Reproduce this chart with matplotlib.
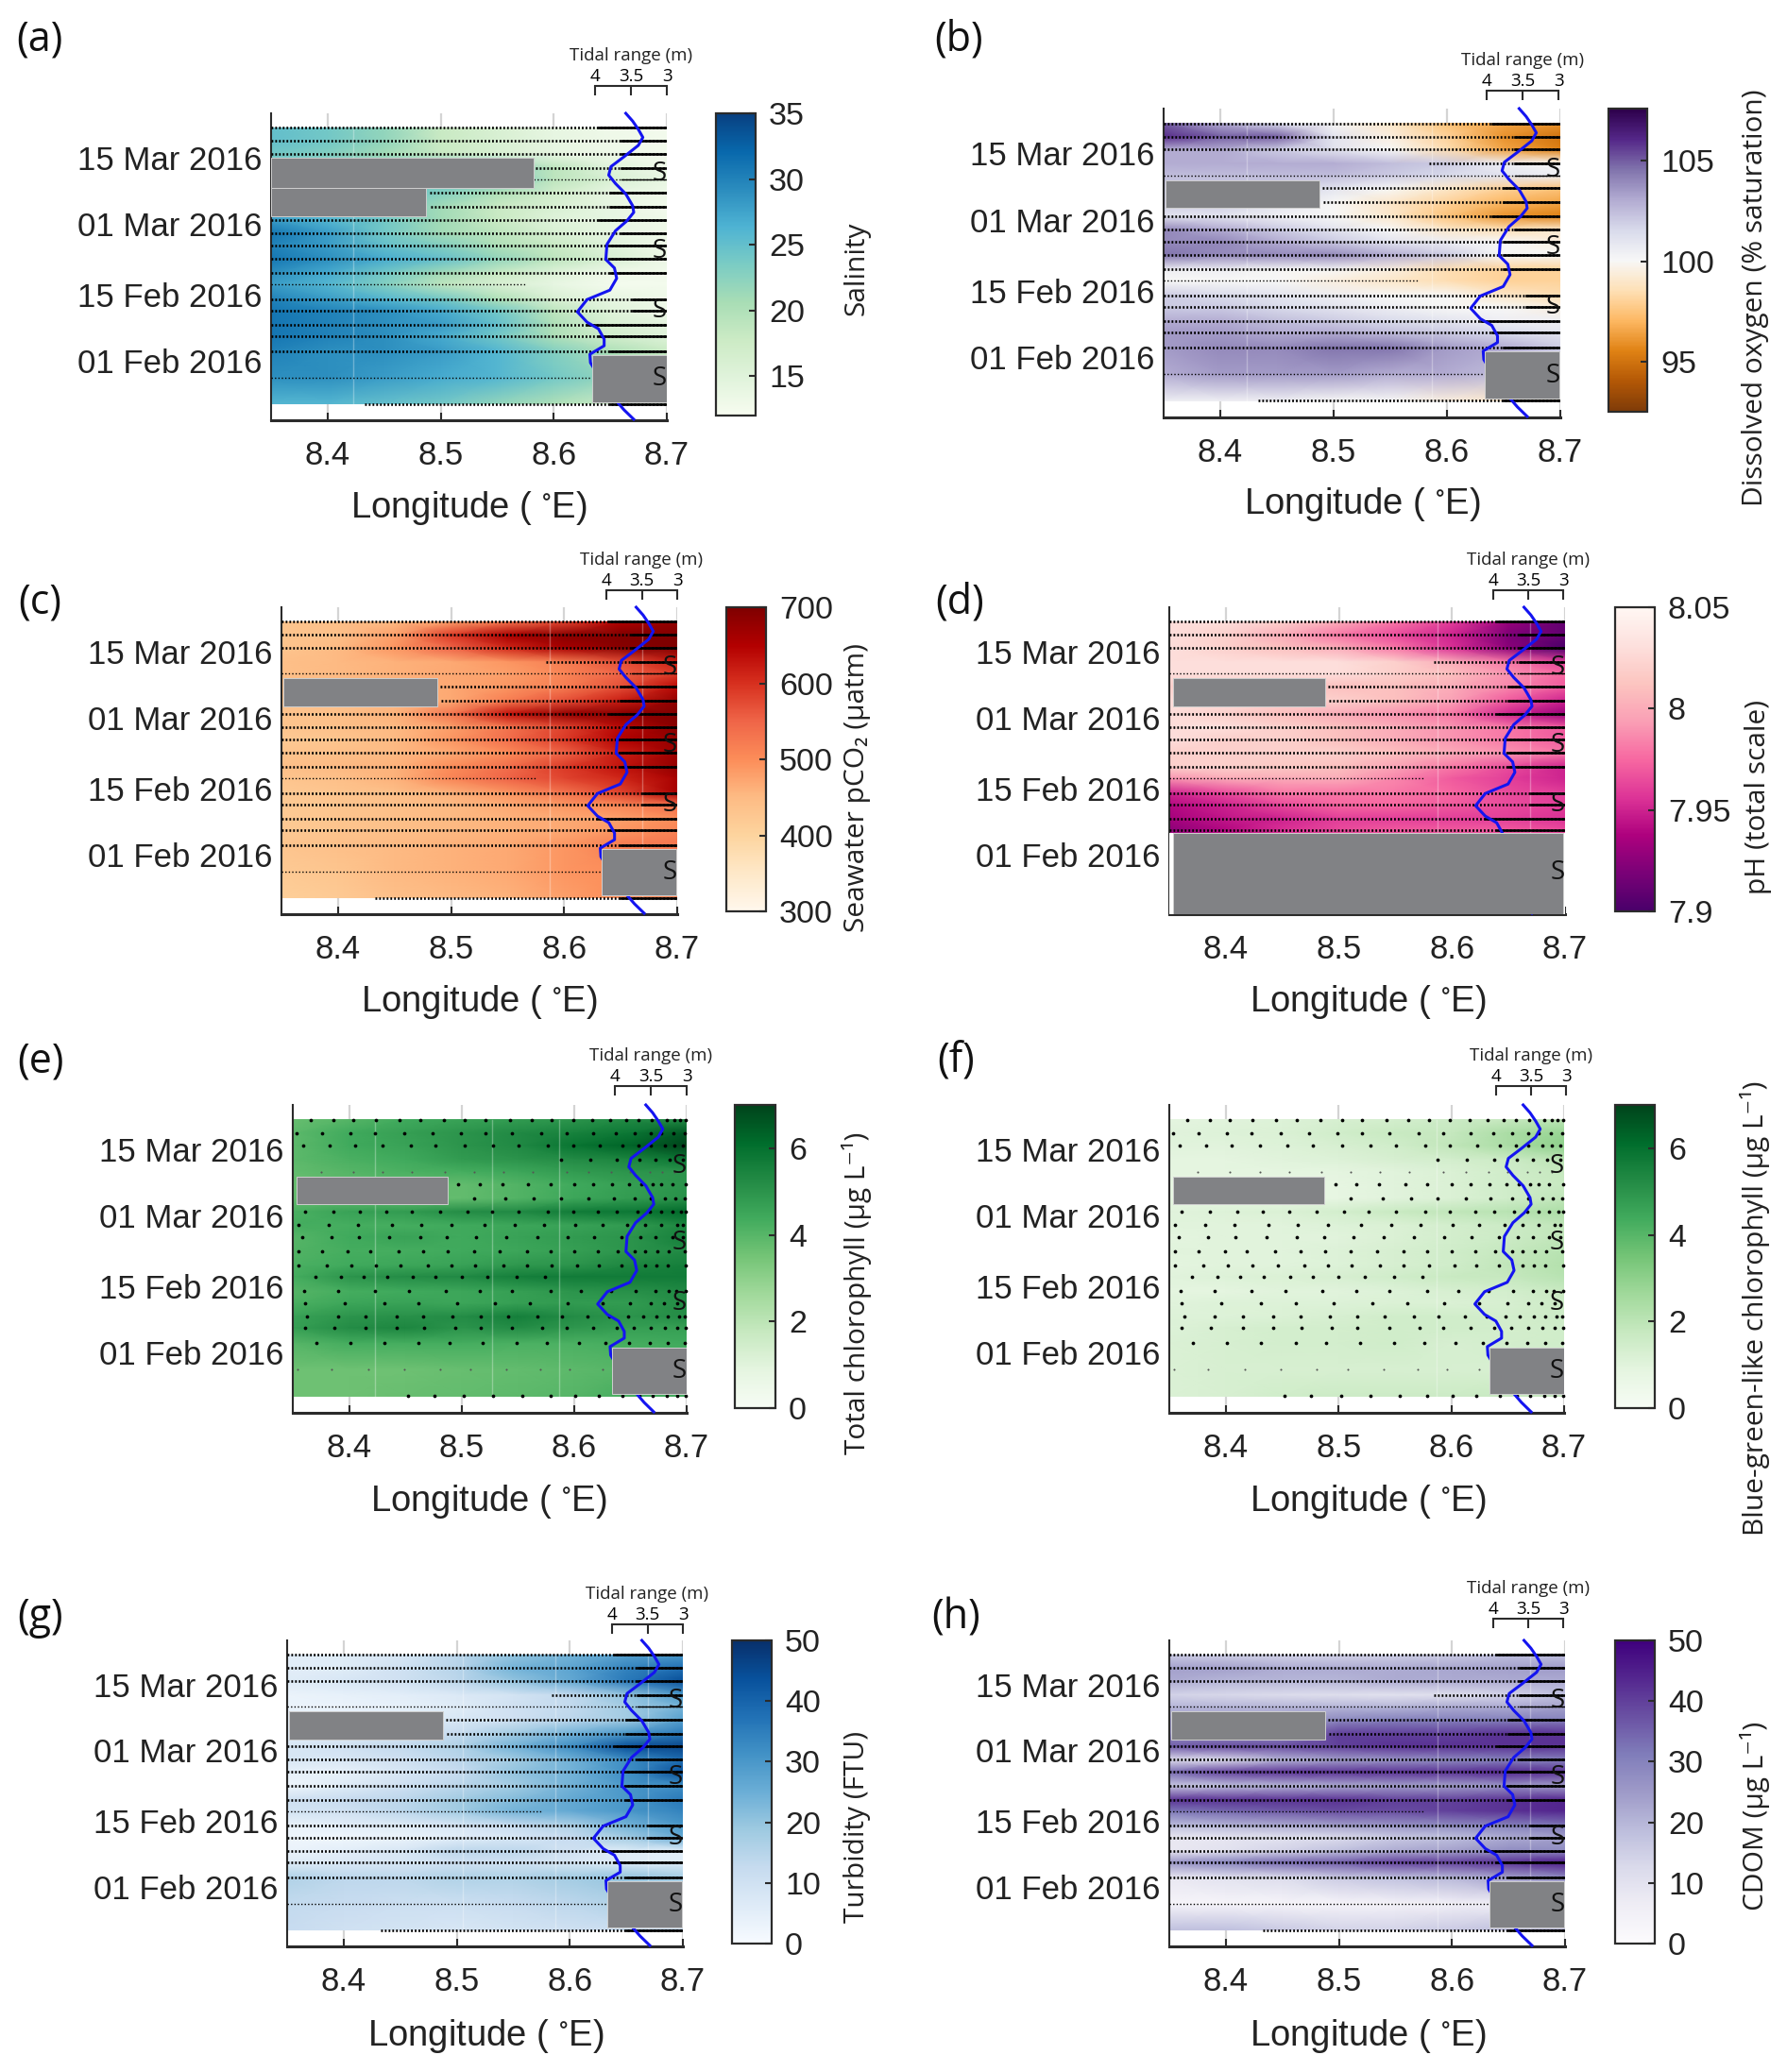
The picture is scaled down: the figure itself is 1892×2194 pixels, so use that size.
import matplotlib
matplotlib.use('Agg')
import matplotlib.pyplot as plt
from matplotlib.patches import Rectangle

plt.rcParams['font.family'] = ['Liberation Sans', 'DejaVu Sans']
plt.rcParams['mathtext.default'] = 'regular'

W, H = 1892, 2194
DARK = '#2b2b2b'
GRAY = '#818285'
LABEL_FONT = ['Open Sans', 'DejaVu Sans']

# ---- sampling: longitude columns and the 20 transects (days since 01 Feb 2016)
lon_cols = [8.35, 8.40, 8.45, 8.50, 8.55, 8.60, 8.65, 8.70]
transect_days = [49.3, 46.5, 43.8, 40.8, 38.3, 35.6, 32.6, 29.8, 27.0, 24.4,
                 21.5, 18.5, 16.1, 13.0, 10.5, 7.6, 5.2, 2.0, -3.6, -9.2]
transect_start = [8.35, 8.35, 8.35, 8.584, 8.35, 8.49, 8.491, 8.35, 8.35, 8.35,
                  8.35, 8.35, 8.35, 8.35, 8.35, 8.35, 8.35, 8.35, 8.35, 8.433]
transect_end = [8.70, 8.70, 8.70, 8.70, 8.70, 8.70, 8.70, 8.70, 8.70, 8.70,
                8.70, 8.70, 8.575, 8.70, 8.70, 8.70, 8.70, 8.70, 8.632, 8.70]
solid_start = [8.64, 8.66, 8.66, 8.66, 8.66, 8.65, 8.65, 8.64, 8.66, 8.65,
               8.65, 8.65, 8.70, 8.67, 8.67, 8.63, 8.64, 8.65, 8.70, 8.65]
thin_rows = [4, 12, 18]

date_ticks = [0, 14, 29, 43]
date_labels = ['01 Feb 2016', '15 Feb 2016', '01 Mar 2016', '15 Mar 2016']
s_days = [39.5, 23.2, 10.5, -3.9]

# tidal range curve
tide_days = [52.4, 50.75, 49.0, 47.3, 45.6, 43.2, 41.1, 39.3, 37.5, 35.3, 32.8,
             31.4, 29.6, 27.5, 24.6, 21.4, 19.6, 17.4, 14.9, 12.9, 10.3, 8.1,
             6.7, 4.5, 3.1, 1.3, -0.5, -4.4, -8.7, -10.5, -12.5]
tide_range = [3.567, 3.472, 3.394, 3.331, 3.394, 3.591, 3.772, 3.803, 3.709,
              3.567, 3.472, 3.457, 3.551, 3.709, 3.827, 3.843, 3.724, 3.693,
              3.787, 4.102, 4.236, 4.102, 3.945, 3.866, 3.866, 4.063, 4.055,
              3.9, 3.693, 3.591, 3.457]

# chlorophyll sensor sample positions, one list per transect
chl_dots = [
    [8.366, 8.386, 8.404, 8.424, 8.445, 8.463, 8.484, 8.503, 8.521, 8.543, 8.562, 8.580, 8.599, 8.616, 8.632, 8.646, 8.657, 8.669, 8.682, 8.689, 8.694, 8.699],
    [8.353, 8.376, 8.401, 8.423, 8.449, 8.474, 8.499, 8.521, 8.545, 8.571, 8.593, 8.617, 8.637, 8.654, 8.668, 8.677, 8.688, 8.698],
    [8.359, 8.383, 8.405, 8.430, 8.455, 8.477, 8.503, 8.528, 8.551, 8.577, 8.599, 8.623, 8.643, 8.657, 8.668, 8.681, 8.689, 8.697],
    [8.588, 8.614, 8.638, 8.658, 8.672, 8.685, 8.697],
    [8.375, 8.404, 8.430, 8.456, 8.485, 8.511, 8.537, 8.563, 8.593, 8.613, 8.633, 8.650, 8.667, 8.678, 8.689],
    [8.497, 8.516, 8.536, 8.559, 8.579, 8.600, 8.617, 8.634, 8.649, 8.660, 8.670, 8.677, 8.687, 8.699],
    [8.511, 8.539, 8.564, 8.588, 8.613, 8.635, 8.654, 8.668, 8.681, 8.690, 8.698],
    [8.361, 8.386, 8.410, 8.433, 8.456, 8.481, 8.505, 8.527, 8.551, 8.577, 8.599, 8.621, 8.638, 8.656, 8.667, 8.677, 8.687, 8.695, 8.699],
    [8.355, 8.382, 8.408, 8.438, 8.464, 8.491, 8.520, 8.547, 8.573, 8.601, 8.625, 8.647, 8.663, 8.677, 8.692, 8.697],
    [8.358, 8.384, 8.409, 8.436, 8.463, 8.487, 8.513, 8.540, 8.567, 8.594, 8.618, 8.642, 8.659, 8.672, 8.687, 8.697],
    [8.355, 8.376, 8.399, 8.419, 8.444, 8.466, 8.488, 8.511, 8.534, 8.558, 8.579, 8.600, 8.621, 8.639, 8.654, 8.663, 8.674, 8.684, 8.698],
    [8.355, 8.380, 8.402, 8.424, 8.446, 8.470, 8.491, 8.512, 8.537, 8.558, 8.580, 8.603, 8.622, 8.642, 8.663, 8.673, 8.683, 8.699],
    [8.370, 8.393, 8.413, 8.434, 8.457, 8.477, 8.500, 8.523, 8.549, 8.574],
    [8.360, 8.390, 8.423, 8.453, 8.486, 8.516, 8.545, 8.579, 8.606, 8.633, 8.655, 8.672, 8.684, 8.691, 8.699],
    [8.361, 8.396, 8.431, 8.462, 8.496, 8.530, 8.561, 8.594, 8.625, 8.650, 8.668, 8.680, 8.692],
    [8.363, 8.390, 8.415, 8.442, 8.466, 8.492, 8.517, 8.541, 8.567, 8.589, 8.612, 8.631, 8.648, 8.661, 8.673, 8.683, 8.693, 8.698],
    [8.361, 8.387, 8.415, 8.442, 8.467, 8.494, 8.517, 8.545, 8.572, 8.593, 8.617, 8.638, 8.653, 8.668, 8.681, 8.692, 8.699],
    [8.371, 8.401, 8.431, 8.462, 8.489, 8.519, 8.549, 8.576, 8.604, 8.628, 8.649, 8.667, 8.683, 8.698],
    [8.354, 8.384, 8.417, 8.449, 8.481, 8.508, 8.540, 8.570, 8.596, 8.625],
    [8.452, 8.476, 8.502, 8.528, 8.554, 8.579, 8.601, 8.622, 8.643, 8.658, 8.670, 8.682, 8.692, 8.699],
]

# ---- fields, one row per transect, one column per lon_cols entry
salinity = [
    [25, 24, 22, 18, 16, 14, 13, 12.5],
    [25, 24, 22, 18, 16, 14, 13, 12.5],
    [24, 23, 21, 18, 16, 14, 13, 12.5],
    [24, 24, 24, 24, 23, 19, 15, 13],
    [24, 24, 24, 24, 24, 19, 16, 14],
    [25, 25, 25, 23, 20, 17, 14, 13],
    [26, 26, 24, 21, 18, 16, 14, 12.5],
    [28, 26, 24, 21, 18, 15, 14, 13],
    [31, 28, 24, 21, 19, 16, 14, 13],
    [30, 28, 25, 23, 20, 18, 15, 13],
    [31, 29, 27, 25, 22, 19, 16, 13.5],
    [29, 27, 24, 21, 18, 15, 13, 12.5],
    [28, 26, 23, 19, 16, 14, 12.5, 12.5],
    [30, 28, 26, 24, 20, 16, 14, 13],
    [31, 30, 29, 27, 24, 19, 15, 13],
    [31, 30, 29, 28, 25, 20, 16, 14.5],
    [31, 30, 29, 27, 24, 20, 17, 15],
    [30, 29, 29, 28, 26, 23, 20, 18],
    [29, 29, 28, 27, 26, 24, 22, 20],
    [26, 26, 25, 24, 22, 20, 18, 17],
]
oxygen = [
    [105, 103, 101.5, 100, 99, 97.5, 96.5, 96],
    [106, 105, 105, 101, 99.5, 98, 96, 95],
    [103, 103, 102, 101, 100, 98.5, 96.5, 95.5],
    [103, 103, 103, 103, 102.5, 102, 100.5, 100],
    [102.5, 102.5, 102.5, 102.5, 102, 101.5, 101, 100.5],
    [102, 102, 102, 101, 100, 99, 98, 97.5],
    [102, 102, 101, 100, 99, 98, 97, 96.5],
    [101, 101, 100.5, 100, 99, 97.5, 96, 95.5],
    [104, 103, 102, 101, 100, 99, 98.5, 99],
    [104, 104, 103, 102, 101, 100.5, 100, 99.5],
    [104.5, 104, 104, 104, 103, 102, 100, 100],
    [100.5, 100.5, 100, 100, 99.5, 98.5, 98, 98],
    [100, 100, 100, 99.5, 99, 98.5, 98, 98],
    [102, 101.5, 101, 100.5, 100, 100, 99, 98.5],
    [102, 102, 101.5, 101, 100.5, 100, 100, 99.5],
    [103, 103, 102.5, 102, 101.5, 101, 100.5, 100.5],
    [103.5, 103.5, 103, 103, 102.5, 102, 101.5, 101],
    [103.5, 104, 104, 104.5, 104.5, 103.5, 103, 102],
    [103, 103.5, 103.5, 103.5, 103, 103, 102.5, 102],
    [100.5, 100.5, 100.5, 100, 100, 99.5, 99, 99],
]
pco2 = [
    [430, 440, 450, 480, 530, 580, 650, 680],
    [430, 440, 480, 590, 660, 690, 700, 700],
    [430, 450, 490, 550, 610, 660, 690, 700],
    [440, 450, 460, 470, 490, 520, 570, 620],
    [440, 450, 460, 470, 480, 510, 550, 590],
    [440, 450, 460, 470, 490, 520, 570, 640],
    [440, 440, 450, 470, 520, 570, 620, 680],
    [430, 440, 460, 530, 630, 680, 690, 700],
    [430, 440, 450, 480, 530, 580, 640, 690],
    [420, 430, 450, 490, 540, 590, 650, 680],
    [430, 440, 450, 470, 500, 550, 620, 670],
    [440, 450, 460, 500, 540, 590, 630, 680],
    [430, 440, 460, 510, 550, 580, 610, 660],
    [420, 430, 440, 460, 490, 530, 580, 660],
    [420, 430, 440, 450, 470, 490, 510, 540],
    [420, 430, 440, 450, 460, 470, 480, 500],
    [420, 430, 440, 450, 460, 470, 490, 510],
    [430, 440, 450, 460, 470, 490, 520, 530],
    [420, 430, 450, 460, 470, 490, 500, 510],
    [410, 420, 440, 450, 460, 480, 500, 510],
]
ph = [
    [8.03, 8.03, 8.02, 8.00, 7.98, 7.96, 7.93, 7.91],
    [8.03, 8.02, 8.00, 7.98, 7.965, 7.95, 7.92, 7.91],
    [8.03, 8.02, 8.01, 8.00, 7.98, 7.955, 7.925, 7.90],
    [8.03, 8.03, 8.03, 8.03, 8.02, 8.00, 7.98, 7.96],
    [8.03, 8.03, 8.03, 8.03, 8.02, 8.01, 7.99, 7.975],
    [8.02, 8.02, 8.02, 8.01, 8.01, 8.00, 7.985, 7.97],
    [8.03, 8.03, 8.02, 8.02, 8.01, 7.995, 7.97, 7.95],
    [8.03, 8.02, 8.01, 8.00, 7.99, 7.98, 7.95, 7.93],
    [8.03, 8.03, 8.02, 8.01, 8.00, 7.99, 7.98, 7.97],
    [8.03, 8.02, 8.02, 8.01, 8.00, 7.99, 7.98, 7.97],
    [8.02, 8.02, 8.02, 8.02, 8.01, 8.00, 7.99, 7.98],
    [8.02, 8.02, 8.015, 8.01, 7.995, 7.98, 7.965, 7.95],
    [7.99, 8.00, 8.00, 8.00, 7.985, 7.97, 7.96, 7.95],
    [7.95, 7.965, 7.98, 7.98, 7.98, 7.975, 7.965, 7.96],
    [7.94, 7.95, 7.965, 7.975, 7.975, 7.97, 7.965, 7.96],
    [7.935, 7.945, 7.95, 7.96, 7.96, 7.96, 7.96, 7.955],
    [7.925, 7.94, 7.955, 7.965, 7.97, 7.97, 7.97, 7.965],
    [7.96, 7.96, 7.96, 7.96, 7.96, 7.96, 7.96, 7.96],
    [7.96, 7.96, 7.96, 7.96, 7.96, 7.96, 7.96, 7.96],
    [7.96, 7.96, 7.96, 7.96, 7.96, 7.96, 7.96, 7.96],
]
total_chl = [
    [3.7, 4.0, 4.4, 4.6, 4.8, 5.0, 5.3, 5.3],
    [3.9, 4.4, 4.7, 5.0, 5.3, 5.5, 5.8, 6.6],
    [3.9, 4.4, 4.6, 5.0, 5.3, 5.9, 6.3, 7.0],
    [3.9, 4.2, 4.4, 4.8, 5.0, 5.2, 5.4, 5.8],
    [3.8, 4.0, 4.2, 4.3, 4.5, 4.8, 5.0, 5.0],
    [3.7, 3.9, 3.9, 3.8, 4.1, 4.4, 4.7, 5.0],
    [3.8, 3.8, 3.8, 3.8, 4.1, 4.5, 4.8, 5.1],
    [4.2, 4.6, 4.8, 5.2, 5.3, 5.7, 5.8, 6.2],
    [4.3, 4.3, 4.3, 4.4, 4.5, 4.6, 4.8, 5.4],
    [4.0, 4.4, 4.6, 4.4, 4.6, 4.8, 5.0, 5.6],
    [4.1, 4.3, 4.3, 4.4, 4.5, 4.7, 5.0, 5.3],
    [4.2, 4.4, 4.5, 4.6, 4.9, 5.0, 5.4, 5.6],
    [4.3, 5.0, 5.2, 5.3, 5.6, 5.7, 5.7, 5.7],
    [4.0, 4.3, 4.4, 4.5, 4.7, 5.0, 5.1, 5.3],
    [4.2, 4.5, 4.6, 4.5, 4.7, 4.8, 4.8, 5.2],
    [4.6, 5.0, 5.1, 5.2, 5.6, 5.2, 5.0, 5.2],
    [4.7, 5.2, 5.4, 5.0, 5.2, 4.9, 4.7, 4.7],
    [4.0, 4.3, 4.3, 4.3, 4.2, 4.2, 4.3, 4.4],
    [3.6, 3.6, 3.6, 3.7, 3.8, 3.9, 4.0, 4.2],
    [3.6, 3.6, 3.7, 3.8, 3.9, 4.0, 4.3, 4.4],
]
bluegreen_chl = [
    [0.9, 1.0, 1.1, 1.3, 1.4, 1.6, 1.8, 2.0],
    [1.0, 1.1, 1.2, 1.5, 1.7, 1.8, 2.4, 2.8],
    [1.0, 1.0, 1.1, 1.3, 1.5, 1.9, 2.4, 3.0],
    [0.9, 0.9, 1.0, 1.1, 1.3, 1.4, 1.6, 2.0],
    [0.9, 0.9, 0.9, 0.9, 1.0, 1.2, 1.5, 1.8],
    [0.8, 0.8, 0.8, 0.8, 1.0, 1.2, 1.5, 1.7],
    [0.8, 0.8, 0.8, 0.8, 1.0, 1.2, 1.5, 1.9],
    [1.0, 1.1, 1.2, 1.4, 1.7, 1.9, 2.1, 2.4],
    [1.0, 1.0, 1.0, 1.1, 1.2, 1.4, 1.6, 1.9],
    [0.9, 1.0, 1.0, 1.0, 1.2, 1.4, 1.6, 1.9],
    [1.0, 1.0, 1.0, 1.1, 1.3, 1.5, 1.8, 2.1],
    [0.9, 1.0, 1.0, 1.1, 1.3, 1.5, 1.9, 2.2],
    [1.0, 1.1, 1.2, 1.3, 1.5, 1.7, 1.8, 2.1],
    [0.9, 0.9, 1.0, 1.0, 1.1, 1.3, 1.4, 1.7],
    [1.0, 1.1, 1.1, 1.1, 1.2, 1.2, 1.3, 1.6],
    [1.1, 1.1, 1.2, 1.3, 1.5, 1.5, 1.4, 1.6],
    [1.1, 1.3, 1.4, 1.4, 1.5, 1.5, 1.4, 1.5],
    [1.2, 1.3, 1.4, 1.4, 1.5, 1.3, 1.4, 1.5],
    [1.2, 1.3, 1.3, 1.3, 1.3, 1.3, 1.3, 1.4],
    [1.2, 1.3, 1.5, 1.6, 1.6, 1.6, 1.7, 1.8],
]
turbidity = [
    [5, 6, 8, 14, 20, 24, 28, 30],
    [5, 6, 10, 15, 24, 27, 34, 38],
    [6, 8, 10, 14, 20, 26, 36, 44],
    [3, 4, 5, 7, 9, 13, 20, 30],
    [3, 3, 4, 6, 10, 13, 18, 24],
    [4, 5, 6, 8, 10, 14, 18, 28],
    [5, 6, 8, 12, 18, 24, 30, 36],
    [8, 10, 13, 16, 24, 32, 44, 46],
    [8, 8, 10, 14, 18, 24, 32, 38],
    [4, 4, 8, 12, 20, 24, 32, 44],
    [2, 6, 10, 14, 18, 24, 30, 32],
    [10, 12, 14, 18, 22, 26, 30, 36],
    [9, 10, 14, 18, 24, 26, 30, 34],
    [3, 5, 6, 8, 12, 16, 24, 30],
    [2, 2, 3, 5, 8, 12, 18, 26],
    [3, 5, 8, 14, 14, 10, 6, 5],
    [6, 7, 8, 10, 10, 8, 6, 6],
    [16, 14, 14, 16, 16, 18, 20, 18],
    [13, 12, 11, 11, 12, 14, 16, 15],
    [12, 10, 9, 8, 9, 10, 11, 12],
]
cdom = [
    [16, 15, 14, 14, 15, 16, 18, 18],
    [24, 24, 22, 22, 22, 23, 24, 25],
    [22, 20, 20, 20, 22, 22, 22, 22],
    [14, 13, 12, 11, 10, 11, 14, 18],
    [20, 20, 20, 20, 20, 22, 22, 24],
    [24, 24, 24, 28, 30, 30, 30, 30],
    [26, 26, 28, 40, 40, 40, 42, 42],
    [36, 38, 38, 40, 42, 42, 42, 42],
    [10, 12, 20, 24, 26, 28, 30, 30],
    [34, 40, 42, 42, 42, 42, 44, 42],
    [16, 18, 20, 22, 24, 24, 26, 24],
    [42, 42, 42, 42, 40, 40, 42, 44],
    [32, 34, 36, 38, 38, 40, 42, 44],
    [18, 20, 22, 24, 26, 28, 30, 32],
    [8, 9, 10, 12, 16, 18, 22, 24],
    [8, 10, 14, 18, 22, 24, 28, 28],
    [26, 30, 34, 36, 40, 40, 42, 46],
    [8, 10, 12, 16, 18, 20, 24, 28],
    [3, 3, 3, 3, 4, 5, 6, 8],
    [18, 18, 16, 14, 14, 16, 18, 20],
]

# no-data boxes: lon0, lon1, day0, day1
boxes_a = [(8.35, 8.582, 36.6, 42.9), (8.35, 8.487, 30.5, 36.6), (8.634, 8.70, -8.9, 1.1)]
boxes_std = [(8.352, 8.4875, 31.4, 37.3), (8.633, 8.699, -8.7, 1.15)]
boxes_d = [(8.353, 8.4875, 31.4, 37.3), (8.353, 8.698, -12.6, 4.6)]
boxes_chl = [(8.353, 8.4875, 31.4, 37.3), (8.634, 8.70, -8.7, 1.15)]

panels = [
    dict(tag='(a)', z=salinity, cmap='GnBu', lim=(12, 35), ticks=[15, 20, 25, 30, 35], labels=None,
         name='Salinity', ax=(287, 120, 706, 445), cb=(758, 120, 800, 440), bar=(630, 706, 91),
         tagxy=(42, 42), xl=(496, 538), cl=(907, 284), boxes=boxes_a, dense=True, seams=[8.423]),
    dict(tag='(b)', z=oxygen, cmap='PuOr', lim=(92.5, 107.6), ticks=[95, 100, 105], labels=None,
         name='Dissolved oxygen (% saturation)', ax=(1232, 115, 1652, 442), cb=(1703, 115, 1744, 436), bar=(1574, 1650, 96),
         tagxy=(1015, 42), xl=(1442, 534), cl=(1858, 315), boxes=boxes_std, dense=True, seams=[8.423, 8.587]),
    dict(tag='(c)', z=pco2, cmap='OrRd', lim=(300, 700), ticks=[300, 400, 500, 600, 700], labels=None,
         name='Seawater pCO₂ (µatm)', ax=(298, 643, 717, 968), cb=(769, 643, 811, 965), bar=(642, 717, 625),
         tagxy=(42, 638), xl=(507, 1061), cl=(907, 834), boxes=boxes_std, dense=True, seams=[8.587, 8.669]),
    dict(tag='(d)', z=ph, cmap='RdPu_r', lim=(7.9, 8.05), ticks=[7.9, 7.95, 8.0, 8.05], labels=['7.9', '7.95', '8', '8.05'],
         name='pH (total scale)', ax=(1238, 643, 1657, 968), cb=(1710, 643, 1752, 965), bar=(1581, 1655, 625),
         tagxy=(1016, 638), xl=(1448, 1061), cl=(1861, 844), boxes=boxes_d, dense=True, seams=[8.587, 8.669]),
    dict(tag='(e)', z=total_chl, cmap='Greens', lim=(0, 7), ticks=[0, 2, 4, 6], labels=None,
         name='Total chlorophyll (µg L⁻¹)', ax=(310, 1170, 727, 1496), cb=(778, 1170, 821, 1491), bar=(651, 727, 1150),
         tagxy=(43, 1124), xl=(517, 1590), cl=(907, 1369), boxes=boxes_chl, dense=False, seams=[8.423, 8.527, 8.587]),
    dict(tag='(f)', z=bluegreen_chl, cmap='Greens', lim=(0, 7), ticks=[0, 2, 4, 6], labels=None,
         name='Blue-green-like chlorophyll (µg L⁻¹)', ax=(1238, 1170, 1656, 1496), cb=(1710, 1170, 1752, 1491), bar=(1584, 1658, 1150),
         tagxy=(1012, 1124), xl=(1448, 1590), cl=(1858, 1385), boxes=boxes_chl, dense=False, seams=[8.587]),
    dict(tag='(g)', z=turbidity, cmap='Blues', lim=(0, 50), ticks=[0, 10, 20, 30, 40, 50], labels=None,
         name='Turbidity (FTU)', ax=(304, 1737, 723, 2061), cb=(775, 1737, 817, 2058), bar=(648, 723, 1720),
         tagxy=(43, 1713), xl=(514, 2156), cl=(907, 1934), boxes=boxes_std, dense=True, seams=[8.505, 8.587, 8.669]),
    dict(tag='(h)', z=cdom, cmap='Purples', lim=(0, 50), ticks=[0, 10, 20, 30, 40, 50], labels=None,
         name='CDOM (µg L⁻¹)', ax=(1238, 1737, 1657, 2061), cb=(1710, 1737, 1752, 2058), bar=(1581, 1655, 1714),
         tagxy=(1012, 1713), xl=(1448, 2156), cl=(1858, 1923), boxes=boxes_std, dense=True, seams=[8.587, 8.669]),
]


def rect(x0, y0, x1, y1):
    return [x0 / W, 1 - y1 / H, (x1 - x0) / W, (y1 - y0) / H]


def tide_to_lon(r):
    # tidal scale: 3 m sits on 8.70, 4 m on 8.636
    return 8.70 - (r - 3) * 0.064


fig = plt.figure(figsize=(W / 100, H / 100), dpi=100)

for p in panels:
    ax = fig.add_axes(rect(*p['ax']))
    mesh = ax.pcolormesh(lon_cols, transect_days, p['z'], cmap=p['cmap'], shading='gouraud',
                         vmin=p['lim'][0], vmax=p['lim'][1], zorder=1, rasterized=True)
    ax.set_xlim(8.35, 8.70)
    ax.set_ylim(-12.7, 52.4)
    ax.set_xticks([8.4, 8.5, 8.6, 8.7])
    ax.set_xticklabels(['8.4', '8.5', '8.6', '8.7'])
    ax.set_yticks(date_ticks)
    ax.set_yticklabels(date_labels)
    ax.tick_params(direction='in', length=6, width=1.5, color=DARK, labelsize=25, labelcolor='#222222')
    ax.tick_params(axis='x', pad=15)
    ax.tick_params(axis='y', pad=7)
    ax.grid(axis='x', color='#d4d4d4', lw=1.6, zorder=0)
    ax.set_axisbelow(True)
    for s in ['top', 'right']:
        ax.spines[s].set_visible(False)
    ax.spines['left'].set_linewidth(1.5)
    ax.spines['bottom'].set_linewidth(2.2)
    ax.spines['left'].set_color(DARK)
    ax.spines['bottom'].set_color(DARK)

    for lon in p['seams']:
        ax.plot([lon, lon], [transect_days[-1], transect_days[0]], color='white', lw=1, alpha=0.3, zorder=2)

    # transects
    for i, day in enumerate(transect_days):
        if p['dense']:
            thin = i in thin_rows
            lw = 1.0 if thin else 1.9
            ax.plot([transect_start[i], transect_end[i]], [day, day], color='black', lw=lw,
                    ls=(0, (1.0, 1.6)) if thin else (0, (0.7, 0.8)), zorder=3)
            if solid_start[i] < transect_end[i]:
                ax.plot([solid_start[i], transect_end[i]], [day, day], color='black', lw=lw, zorder=3)
        else:
            ms = 1.5 if i in [4, 18] else 2.7
            col = '#555555' if i in [4, 18] else 'black'
            ax.plot(chl_dots[i], [day] * len(chl_dots[i]), ls='none', marker='o', ms=ms, mew=0,
                    color=col, zorder=3, clip_on=False)

    ax.plot([tide_to_lon(r) for r in tide_range], tide_days, color='#1414f0', lw=2.2, zorder=4, clip_on=False)

    if p['tag'] == '(d)':
        # white margin round the big box
        ax.add_patch(Rectangle((8.35, -12.6), 0.35, 17.2, facecolor='white', edgecolor='none', zorder=4.5))
    for lon0, lon1, d0, d1 in p['boxes']:
        ax.add_patch(Rectangle((lon0, d0), lon1 - lon0, d1 - d0, facecolor=GRAY, edgecolor='#cfcfcf',
                               lw=0.7, zorder=5))
    for d in s_days:
        ax.text(8.700, d, 'S', ha='right', va='center', fontsize=20, family=LABEL_FONT, color='#111111', zorder=6)

    # colorbar
    cax = fig.add_axes(rect(*p['cb']))
    cbar = fig.colorbar(mesh, cax=cax)
    cbar.set_ticks(p['ticks'])
    if p['labels']:
        cbar.set_ticklabels(p['labels'])
    cax.tick_params(direction='in', length=5, width=1.5, color=DARK, labelsize=24.5, labelcolor='#222222', pad=10)
    cbar.outline.set_linewidth(1.6)
    cbar.outline.set_edgecolor(DARK)

    # tidal range scale above the map
    x0, x1, ybar = p['bar']
    tax = fig.add_axes(rect(x0, ybar, x1, ybar + 1))
    tax.set_xlim(4, 3)
    tax.set_ylim(0, 1)
    tax.patch.set_alpha(0)
    for s in ['left', 'right', 'bottom']:
        tax.spines[s].set_visible(False)
    tax.spines['top'].set_linewidth(1.5)
    tax.spines['top'].set_color(DARK)
    tax.set_yticks([])
    tax.set_xticks([4, 3.5, 3])
    tax.set_xticklabels(['4', '3.5', '3'], family=LABEL_FONT)
    tax.xaxis.tick_top()
    tax.tick_params(axis='x', direction='in', length=7, width=1.5, color=DARK, labelsize=13.5, pad=1)
    fig.text((x0 + x1) / 2 / W, 1 - (ybar - 32) / H, 'Tidal range (m)', ha='center', va='center',
             fontsize=13.5, family=LABEL_FONT, color='#222222')

    fig.text(p['tagxy'][0] / W, 1 - p['tagxy'][1] / H, p['tag'], ha='center', va='center',
             fontsize=31, family=LABEL_FONT, color='#111111')
    fig.text(p['xl'][0] / W, 1 - p['xl'][1] / H, 'Longitude ( $^{\\circ}$E)', ha='center', va='center',
             fontsize=27.5, color='#222222')
    fig.text(p['cl'][0] / W, 1 - p['cl'][1] / H, p['name'], ha='center', va='center', rotation=90,
             fontsize=21.5, family=LABEL_FONT, color='#222222')

fig.savefig('out.png', dpi=100)
